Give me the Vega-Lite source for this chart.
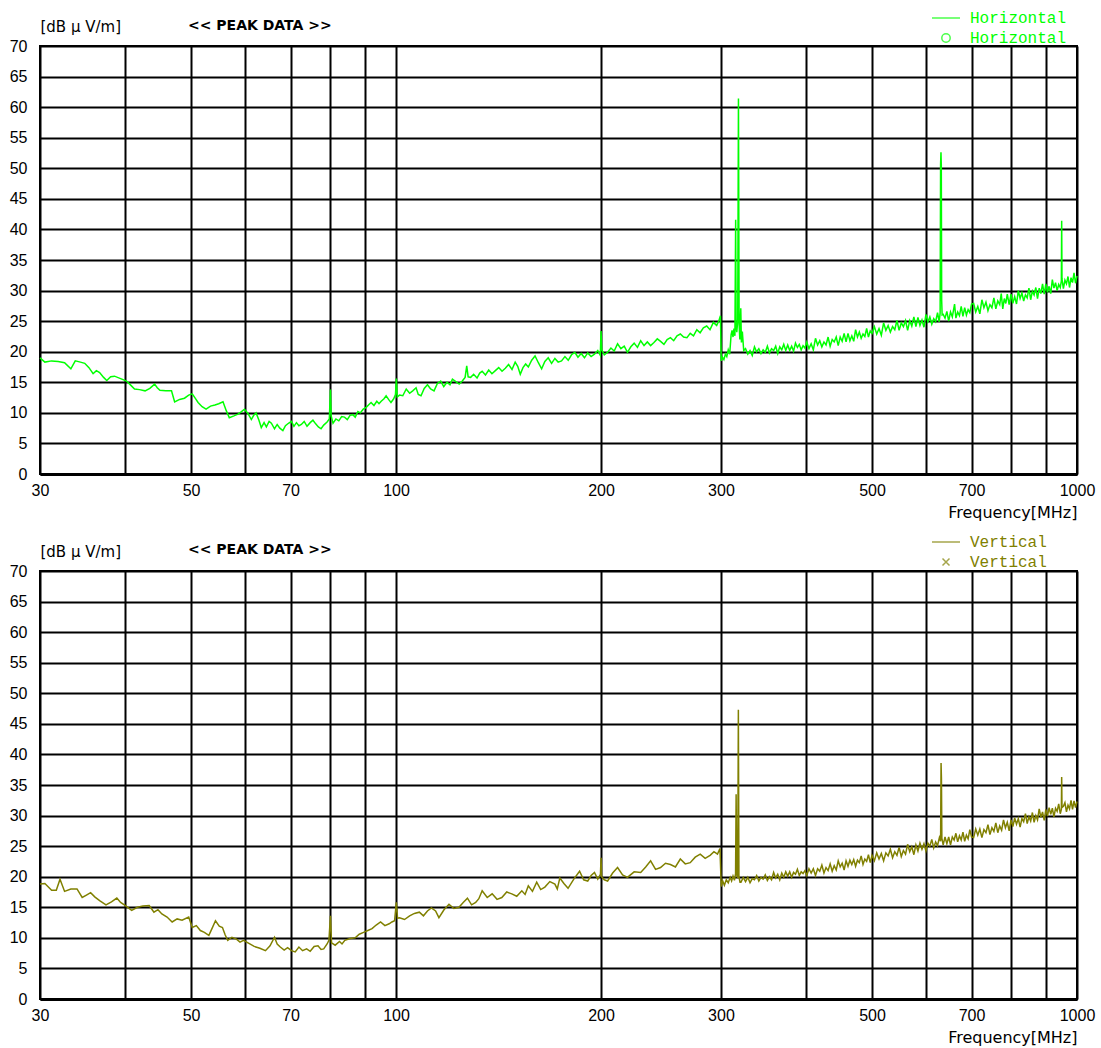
{
"$schema": "https://vega.github.io/schema/vega-lite/v6.json",
"background": "white",
"padding": {"left": 8, "top": 9, "right": 4, "bottom": 1},
"config": {
  "view": {"stroke": "black", "strokeWidth": 2},
  "axis": {"gridColor": "black", "gridWidth": 2, "gridOpacity": 1, "tickSize": 0, "domain": false, "labelColor": "black", "labelFont": "Liberation Sans", "labelFontSize": 16, "titleColor": "black", "titleFontWeight": "normal", "labelOverlap": false},
  "concat": {"spacing": 12}
},
"datasets": {
"h": [
{"f":30,"d":19.0},{"f":30.5,"d":18.3},{"f":31.2,"d":18.5},{"f":31.9,"d":18.4},{"f":32.6,"d":18.2},{"f":33.3,"d":17.2},{"f":33.8,"d":18.5},{"f":34.4,"d":18.3},{"f":34.9,"d":18.1},{"f":35.4,"d":17.4},{"f":35.9,"d":16.4},{"f":36.3,"d":16.9},{"f":36.7,"d":16.6},{"f":37.2,"d":15.8},{"f":37.6,"d":15.3},{"f":38.1,"d":15.9},{"f":38.6,"d":16.0},{"f":39.4,"d":15.6},{"f":40.2,"d":15.2},{"f":40.8,"d":14.5},{"f":41.3,"d":13.9},{"f":42.0,"d":13.8},{"f":42.8,"d":13.6},{"f":43.5,"d":14.0},{"f":44.2,"d":14.7},{"f":44.6,"d":14.1},{"f":45.0,"d":13.7},{"f":45.9,"d":13.6},{"f":46.8,"d":13.6},{"f":47.3,"d":11.8},{"f":48.1,"d":12.2},{"f":48.9,"d":12.4},{"f":49.6,"d":12.9},{"f":50.2,"d":13.1},{"f":50.7,"d":12.4},{"f":51.2,"d":11.7},{"f":51.9,"d":11.0},{"f":52.6,"d":10.6},{"f":53.4,"d":11.1},{"f":54.2,"d":11.3},{"f":54.9,"d":11.5},{"f":55.7,"d":11.8},{"f":56.3,"d":10.4},{"f":56.9,"d":9.2},{"f":57.8,"d":9.5},{"f":58.6,"d":9.8},{"f":59.3,"d":10.2},{"f":59.9,"d":10.6},{"f":60.6,"d":9.9},{"f":61.3,"d":8.9},{"f":61.8,"d":9.6},{"f":62.3,"d":10.0},{"f":62.9,"d":8.8},{"f":63.4,"d":7.6},{"f":64.0,"d":8.4},{"f":64.5,"d":7.7},{"f":65.1,"d":8.6},{"f":65.6,"d":8.3},{"f":66.3,"d":7.4},{"f":66.9,"d":8.1},{"f":67.5,"d":7.5},{"f":68.2,"d":7.1},{"f":68.8,"d":7.9},{"f":69.5,"d":8.3},{"f":70.2,"d":8.6},{"f":70.8,"d":7.8},{"f":71.4,"d":8.4},{"f":72.0,"d":7.9},{"f":72.6,"d":8.1},{"f":73.3,"d":8.6},{"f":74.0,"d":7.8},{"f":74.8,"d":8.4},{"f":75.5,"d":8.8},{"f":76.2,"d":8.2},{"f":76.9,"d":7.7},{"f":77.6,"d":7.4},{"f":78.3,"d":8.0},{"f":79.2,"d":8.5},{"f":79.8,"d":9.0},{"f":80.1,"d":13.8},{"f":80.3,"d":9.5},{"f":80.8,"d":8.3},{"f":81.6,"d":9.0},{"f":82.4,"d":8.7},{"f":83.2,"d":9.4},{"f":84.0,"d":9.3},{"f":84.8,"d":8.9},{"f":85.6,"d":9.6},{"f":86.4,"d":9.7},{"f":87.1,"d":9.3},{"f":87.9,"d":10.2},{"f":88.6,"d":10.0},{"f":89.5,"d":10.6},{"f":90.4,"d":10.9},{"f":91.1,"d":11.3},{"f":91.9,"d":11.7},{"f":92.8,"d":11.2},{"f":93.7,"d":11.9},{"f":94.4,"d":11.5},{"f":95.1,"d":11.9},{"f":96.0,"d":12.3},{"f":96.7,"d":12.8},{"f":97.5,"d":12.2},{"f":98.3,"d":11.7},{"f":99.2,"d":12.3},{"f":99.8,"d":13.0},{"f":100.1,"d":15.6},{"f":100.4,"d":12.6},
{"f":101.2,"d":12.9},{"f":102.3,"d":12.8},{"f":103.5,"d":13.9},{"f":104.7,"d":13.2},{"f":105.8,"d":13.6},{"f":107.0,"d":14.1},{"f":107.8,"d":13.0},{"f":108.8,"d":12.8},{"f":110.0,"d":14.0},{"f":111.2,"d":14.6},{"f":112.4,"d":13.9},{"f":113.7,"d":13.6},{"f":115.0,"d":14.8},{"f":116.3,"d":15.2},{"f":117.5,"d":14.3},{"f":118.8,"d":15.0},{"f":120.0,"d":14.6},{"f":121.0,"d":15.5},{"f":122.4,"d":15.1},{"f":123.8,"d":14.7},{"f":125.1,"d":15.2},{"f":126.3,"d":15.8},{"f":127.0,"d":17.7},{"f":127.6,"d":15.9},{"f":128.7,"d":15.8},{"f":130.0,"d":16.3},{"f":131.5,"d":15.7},{"f":132.7,"d":16.5},{"f":133.8,"d":16.8},{"f":135.3,"d":16.2},{"f":136.8,"d":17.0},{"f":138.3,"d":16.4},{"f":139.9,"d":16.9},{"f":141.5,"d":17.4},{"f":143.1,"d":16.8},{"f":144.7,"d":17.3},{"f":146.3,"d":17.9},{"f":148.0,"d":17.1},{"f":149.6,"d":18.3},{"f":150.9,"d":17.6},{"f":152.2,"d":16.3},{"f":153.6,"d":17.4},{"f":155.0,"d":18.0},{"f":156.4,"d":17.5},{"f":158.2,"d":18.6},{"f":160.0,"d":19.3},{"f":161.8,"d":18.2},{"f":163.6,"d":17.2},{"f":165.4,"d":18.4},{"f":167.3,"d":19.0},{"f":169.2,"d":18.1},{"f":171.1,"d":18.9},{"f":173.0,"d":18.3},{"f":175.0,"d":18.5},{"f":177.0,"d":19.2},{"f":179.0,"d":18.6},{"f":181.0,"d":19.5},{"f":183.0,"d":19.9},{"f":185.0,"d":19.1},{"f":187.0,"d":19.7},{"f":189.1,"d":19.0},{"f":191.2,"d":19.8},{"f":193.4,"d":19.2},{"f":195.6,"d":19.6},{"f":197.8,"d":20.2},{"f":199.5,"d":19.4},{"f":200.0,"d":23.4},{"f":200.5,"d":20.3},{"f":202.2,"d":19.5},{"f":204.5,"d":19.9},{"f":206.8,"d":20.6},{"f":209.1,"d":20.1},{"f":211.5,"d":21.3},{"f":213.9,"d":20.5},{"f":216.3,"d":20.9},{"f":218.7,"d":19.9},{"f":221.2,"d":20.8},{"f":223.7,"d":21.4},{"f":226.2,"d":20.7},{"f":228.7,"d":21.8},{"f":231.3,"d":21.0},{"f":233.9,"d":21.6},{"f":236.5,"d":21.0},{"f":239.2,"d":21.5},{"f":241.9,"d":22.1},{"f":244.6,"d":21.7},{"f":247.4,"d":21.2},{"f":250.1,"d":22.0},{"f":252.9,"d":22.3},{"f":255.7,"d":21.8},{"f":258.6,"d":22.6},{"f":261.5,"d":22.9},{"f":264.4,"d":22.4},{"f":267.4,"d":22.3},{"f":270.4,"d":23.0},{"f":273.4,"d":22.6},{"f":276.5,"d":23.6},{"f":279.6,"d":23.1},{"f":282.7,"d":23.9},{"f":285.9,"d":24.2},{"f":289.1,"d":23.6},{"f":292.4,"d":24.8},{"f":295.7,"d":24.3},{"f":298.0,"d":25.1},{"f":299.5,"d":25.9},
{"f":300.3,"d":18.5},{"f":301.5,"d":19.1},{"f":303.0,"d":18.7},{"f":304.5,"d":19.6},{"f":306.0,"d":19.2},{"f":307.5,"d":20.3},{"f":309.0,"d":19.6},{"f":310.5,"d":22.8},{"f":311.5,"d":23.5},{"f":312.5,"d":22.4},{"f":313.5,"d":23.8},{"f":314.5,"d":22.6},{"f":315.3,"d":41.6},{"f":315.8,"d":24.0},{"f":316.5,"d":23.2},{"f":317.5,"d":25.0},{"f":318.3,"d":61.4},{"f":319.0,"d":24.5},{"f":319.8,"d":22.0},{"f":320.8,"d":27.1},{"f":321.5,"d":21.5},{"f":322.5,"d":23.3},{"f":324.0,"d":20.2},
{"f":326.0,"d":20.5},{"f":328.5,"d":19.6},{"f":331.0,"d":20.2},{"f":333.5,"d":19.4},{"f":336.0,"d":20.8},{"f":338.5,"d":20.0},{"f":341.0,"d":20.5},{"f":343.5,"d":19.7},{"f":346.0,"d":20.3},{"f":348.5,"d":19.9},{"f":351.0,"d":20.9},{"f":353.5,"d":19.8},{"f":356.0,"d":20.5},{"f":358.5,"d":20.2},{"f":361.0,"d":20.9},{"f":363.5,"d":19.7},{"f":366.0,"d":20.8},{"f":368.5,"d":20.3},{"f":371.0,"d":21.2},{"f":373.5,"d":20.2},{"f":376.0,"d":21.1},{"f":378.5,"d":20.2},{"f":381.0,"d":20.9},{"f":383.5,"d":20.1},{"f":386.0,"d":21.4},{"f":388.5,"d":20.7},{"f":391.0,"d":21.2},{"f":393.5,"d":20.3},{"f":396.0,"d":21.0},{"f":398.5,"d":20.6},
{"f":401,"d":21.6},{"f":404,"d":20.5},{"f":407,"d":21.3},{"f":410,"d":20.3},{"f":413,"d":22.2},{"f":416,"d":21.1},{"f":419,"d":21.8},{"f":422,"d":20.8},{"f":425,"d":21.6},{"f":428,"d":21.1},{"f":431,"d":22.4},{"f":434,"d":20.9},{"f":437,"d":22.0},{"f":440,"d":21.6},{"f":443,"d":22.4},{"f":446,"d":21.0},{"f":449,"d":22.4},{"f":452,"d":21.7},{"f":455,"d":23.0},{"f":458,"d":21.6},{"f":461,"d":23.0},{"f":464,"d":21.8},{"f":467,"d":22.6},{"f":470,"d":21.7},{"f":473,"d":23.6},{"f":476,"d":22.4},{"f":479,"d":23.2},{"f":482,"d":22.2},{"f":485,"d":22.9},{"f":488,"d":22.5},{"f":491,"d":23.8},{"f":494,"d":22.4},{"f":497,"d":23.4},{"f":500,"d":23.0},
{"f":504,"d":24.1},{"f":508,"d":22.9},{"f":512,"d":23.8},{"f":516,"d":22.7},{"f":520,"d":24.7},{"f":524,"d":23.5},{"f":528,"d":24.3},{"f":532,"d":23.2},{"f":536,"d":24.1},{"f":540,"d":23.6},{"f":544,"d":25.1},{"f":548,"d":23.5},{"f":552,"d":24.7},{"f":556,"d":24.1},{"f":560,"d":25.1},{"f":564,"d":23.5},{"f":568,"d":25.1},{"f":572,"d":24.2},{"f":576,"d":25.7},{"f":580,"d":24.1},{"f":584,"d":25.6},{"f":588,"d":24.3},{"f":592,"d":25.2},{"f":596,"d":24.0},{"f":600,"d":26.1},{"f":604,"d":24.9},{"f":608,"d":25.7},{"f":612,"d":24.5},{"f":616,"d":25.4},{"f":620,"d":24.9},{"f":624,"d":26.4},{"f":627.5,"d":24.9},{"f":629.5,"d":26.3},{"f":630.5,"d":50.7},{"f":631.3,"d":52.6},{"f":632.0,"d":50.5},{"f":632.8,"d":28.4},{"f":633.8,"d":26.0},{"f":636,"d":26.1},{"f":640,"d":25.5},{"f":644,"d":26.6},{"f":648,"d":25.0},{"f":652,"d":26.5},{"f":656,"d":25.7},{"f":661,"d":27.8},{"f":664,"d":25.5},{"f":668,"d":26.5},{"f":672,"d":25.9},{"f":676,"d":27.4},{"f":680,"d":25.8},{"f":684,"d":27.2},{"f":688,"d":26.0},{"f":692,"d":26.9},{"f":696,"d":26.4},{"f":700,"d":27.8},
{"f":705,"d":27.9},{"f":710,"d":26.5},{"f":715,"d":27.4},{"f":720,"d":26.2},{"f":725,"d":28.5},{"f":730,"d":27.2},{"f":735,"d":28.1},{"f":740,"d":26.7},{"f":745,"d":27.7},{"f":750,"d":27.2},{"f":755,"d":28.8},{"f":760,"d":27.0},{"f":765,"d":28.3},{"f":770,"d":27.7},{"f":774,"d":29.5},{"f":778,"d":27.0},{"f":782,"d":28.7},{"f":786,"d":27.9},{"f":790,"d":29.4},{"f":795,"d":27.7},{"f":800,"d":29.4},{"f":805,"d":27.9},{"f":810,"d":29.0},{"f":815,"d":27.8},{"f":820,"d":30.0},{"f":825,"d":28.7},{"f":830,"d":29.6},{"f":835,"d":28.3},{"f":840,"d":29.3},{"f":845,"d":28.8},{"f":850,"d":30.4},{"f":855,"d":28.5},{"f":860,"d":29.9},{"f":865,"d":29.3},{"f":870,"d":30.5},{"f":875,"d":28.7},{"f":880,"d":30.4},{"f":885,"d":29.5},{"f":890,"d":31.1},{"f":895,"d":29.4},{"f":900,"d":31.1},{"f":905,"d":29.7},{"f":910,"d":30.7},{"f":915,"d":29.5},{"f":920,"d":31.8},{"f":925,"d":30.4},{"f":930,"d":31.3},{"f":935,"d":30.0},{"f":940,"d":31.0},{"f":945,"d":30.5},{"f":948.5,"d":31.6},{"f":949.5,"d":41.4},{"f":950.5,"d":31.9},{"f":955,"d":30.3},{"f":960,"d":31.7},{"f":965,"d":31.1},{"f":970,"d":32.3},{"f":975,"d":30.5},{"f":980,"d":32.1},{"f":985,"d":31.3},{"f":990,"d":32.9},{"f":995,"d":31.2},{"f":1000,"d":32.4}
],
"v": [
{"f":30,"d":18.8},{"f":30.5,"d":18.9},{"f":31.2,"d":17.8},{"f":31.7,"d":17.8},{"f":32.1,"d":19.6},{"f":32.6,"d":17.6},{"f":33.3,"d":18.0},{"f":34.0,"d":18.0},{"f":34.6,"d":16.6},{"f":35.1,"d":17.0},{"f":35.6,"d":17.4},{"f":36.1,"d":16.7},{"f":36.7,"d":16.1},{"f":37.5,"d":15.4},{"f":38.2,"d":15.9},{"f":38.9,"d":16.5},{"f":39.4,"d":15.8},{"f":40.0,"d":15.3},{"f":40.9,"d":14.5},{"f":41.7,"d":15.0},{"f":42.5,"d":15.2},{"f":43.4,"d":15.3},{"f":44.1,"d":14.2},{"f":44.7,"d":14.6},{"f":45.3,"d":13.9},{"f":46.1,"d":13.4},{"f":46.9,"d":12.6},{"f":47.7,"d":13.1},{"f":48.5,"d":12.9},{"f":49.6,"d":13.4},{"f":50.2,"d":11.7},{"f":50.9,"d":12.0},{"f":51.6,"d":11.2},{"f":52.3,"d":10.9},{"f":53.1,"d":10.4},{"f":53.7,"d":11.6},{"f":54.3,"d":12.8},{"f":55.0,"d":11.9},{"f":55.6,"d":11.7},{"f":56.1,"d":10.5},{"f":56.6,"d":9.6},{"f":57.4,"d":10.1},{"f":58.3,"d":9.8},{"f":59.0,"d":9.3},{"f":59.7,"d":9.6},{"f":60.8,"d":9.1},{"f":61.9,"d":8.6},{"f":63.1,"d":8.3},{"f":64.3,"d":7.9},{"f":65.3,"d":8.7},{"f":66.3,"d":10.1},{"f":66.9,"d":9.0},{"f":67.6,"d":8.5},{"f":68.5,"d":8.0},{"f":69.3,"d":8.4},{"f":70.2,"d":7.9},{"f":71.1,"d":7.7},{"f":72.0,"d":8.5},{"f":72.9,"d":7.9},{"f":73.9,"d":8.2},{"f":74.8,"d":7.8},{"f":75.8,"d":8.6},{"f":76.8,"d":8.7},{"f":77.6,"d":8.1},{"f":78.3,"d":8.2},{"f":79.2,"d":9.0},{"f":79.7,"d":9.6},{"f":80.1,"d":13.6},{"f":80.4,"d":9.2},{"f":81.4,"d":8.8},{"f":82.6,"d":9.4},{"f":83.3,"d":9.0},{"f":84.1,"d":9.6},{"f":85.6,"d":9.9},{"f":87.1,"d":10.0},{"f":88.3,"d":10.6},{"f":89.6,"d":10.9},{"f":90.9,"d":11.2},{"f":92.2,"d":11.5},{"f":93.5,"d":12.1},{"f":94.9,"d":12.6},{"f":96.3,"d":12.0},{"f":97.7,"d":12.3},{"f":98.6,"d":12.6},{"f":99.5,"d":12.8},{"f":100.1,"d":15.8},{"f":100.5,"d":13.2},
{"f":101.2,"d":13.3},{"f":102.9,"d":13.0},{"f":104.7,"d":13.6},{"f":106.4,"d":14.0},{"f":108.2,"d":14.2},{"f":109.7,"d":13.6},{"f":111.2,"d":14.4},{"f":112.7,"d":14.9},{"f":114.3,"d":14.4},{"f":115.6,"d":13.3},{"f":117.6,"d":14.6},{"f":119.6,"d":15.5},{"f":121.6,"d":14.8},{"f":123.7,"d":15.0},{"f":125.5,"d":15.8},{"f":127.3,"d":16.5},{"f":129.1,"d":15.4},{"f":130.9,"d":15.8},{"f":132.3,"d":16.4},{"f":133.8,"d":17.7},{"f":136.1,"d":16.6},{"f":138.4,"d":17.2},{"f":140.7,"d":16.3},{"f":143.0,"d":16.6},{"f":145.4,"d":17.5},{"f":147.9,"d":17.2},{"f":150.4,"d":16.8},{"f":153.0,"d":17.7},{"f":154.7,"d":17.1},{"f":156.4,"d":18.5},{"f":158.6,"d":17.6},{"f":160.9,"d":19.1},{"f":163.1,"d":17.9},{"f":165.4,"d":18.3},{"f":168.2,"d":19.2},{"f":171.1,"d":18.8},{"f":172.5,"d":18.0},{"f":174.0,"d":19.8},{"f":176.4,"d":18.9},{"f":178.9,"d":18.1},{"f":182.4,"d":19.6},{"f":186.0,"d":20.9},{"f":188.6,"d":19.5},{"f":191.2,"d":19.3},{"f":193.4,"d":20.2},{"f":195.6,"d":20.7},{"f":197.8,"d":19.6},{"f":199.6,"d":20.4},{"f":200.0,"d":23.1},{"f":200.4,"d":20.0},{"f":202.2,"d":19.5},{"f":204.5,"d":19.3},{"f":208.0,"d":20.6},{"f":211.5,"d":21.5},{"f":215.1,"d":20.3},{"f":218.7,"d":19.9},{"f":223.7,"d":20.8},{"f":228.7,"d":20.7},{"f":232.6,"d":21.6},{"f":236.5,"d":22.6},{"f":240.5,"d":21.2},{"f":244.6,"d":21.5},{"f":248.7,"d":22.2},{"f":252.9,"d":22.0},{"f":257.2,"d":21.6},{"f":261.5,"d":22.9},{"f":265.9,"d":22.1},{"f":270.4,"d":22.3},{"f":275.0,"d":23.2},{"f":279.7,"d":23.7},{"f":284.4,"d":23.0},{"f":289.2,"d":23.5},{"f":293.0,"d":24.1},{"f":296.5,"d":23.7},{"f":299.0,"d":24.6},
{"f":300.3,"d":18.4},{"f":301.8,"d":19.3},{"f":303.5,"d":18.6},{"f":305.5,"d":19.5},{"f":307.5,"d":19.0},{"f":309.5,"d":19.9},{"f":311.0,"d":19.3},{"f":312.5,"d":20.1},{"f":314.0,"d":19.4},{"f":315.2,"d":20.5},{"f":315.8,"d":33.5},{"f":316.4,"d":20.3},{"f":317.5,"d":19.8},{"f":318.2,"d":47.3},{"f":318.8,"d":20.0},{"f":320.0,"d":19.1},
{"f":321,"d":19.1},{"f":323.5,"d":19.9},{"f":326,"d":19.2},{"f":328.5,"d":19.9},{"f":331,"d":19.0},{"f":333.5,"d":19.7},{"f":336,"d":19.5},{"f":338.5,"d":20.2},{"f":341,"d":19.3},{"f":343.5,"d":19.9},{"f":346,"d":19.6},{"f":348.5,"d":20.3},{"f":351,"d":19.4},{"f":353.5,"d":20.0},{"f":356,"d":19.5},{"f":358.5,"d":20.7},{"f":361,"d":19.8},{"f":363.5,"d":20.4},{"f":366,"d":19.5},{"f":368.5,"d":20.6},{"f":371,"d":19.9},{"f":373.5,"d":20.8},{"f":376,"d":20.1},{"f":378.5,"d":20.8},{"f":381,"d":19.9},{"f":383.5,"d":20.7},{"f":386,"d":20.4},{"f":388.5,"d":21.2},{"f":391,"d":20.2},{"f":393.5,"d":20.8},{"f":396,"d":20.5},{"f":398.5,"d":21.0},
{"f":401,"d":20.2},{"f":404,"d":21.3},{"f":407,"d":20.6},{"f":410,"d":21.3},{"f":413,"d":20.2},{"f":416,"d":21.3},{"f":419,"d":20.9},{"f":422,"d":21.9},{"f":425,"d":20.6},{"f":428,"d":21.5},{"f":431,"d":21.0},{"f":434,"d":22.1},{"f":437,"d":20.9},{"f":440,"d":21.8},{"f":443,"d":21.1},{"f":446,"d":22.6},{"f":449,"d":21.6},{"f":452,"d":22.2},{"f":455,"d":21.1},{"f":458,"d":22.6},{"f":461,"d":21.7},{"f":464,"d":22.7},{"f":467,"d":22.0},{"f":470,"d":22.8},{"f":473,"d":21.7},{"f":476,"d":22.7},{"f":479,"d":22.3},{"f":482,"d":23.4},{"f":485,"d":22.0},{"f":488,"d":22.9},{"f":491,"d":22.5},{"f":494,"d":23.6},{"f":497,"d":22.3},{"f":500,"d":23.5},
{"f":504,"d":22.6},{"f":508,"d":23.9},{"f":512,"d":22.9},{"f":516,"d":23.8},{"f":520,"d":22.6},{"f":524,"d":23.9},{"f":528,"d":23.4},{"f":532,"d":24.5},{"f":536,"d":23.1},{"f":540,"d":24.1},{"f":544,"d":23.5},{"f":548,"d":24.8},{"f":552,"d":23.3},{"f":556,"d":24.3},{"f":560,"d":23.7},{"f":564,"d":25.3},{"f":568,"d":24.1},{"f":572,"d":24.9},{"f":576,"d":23.6},{"f":580,"d":25.2},{"f":584,"d":24.2},{"f":588,"d":25.5},{"f":592,"d":24.5},{"f":596,"d":25.4},{"f":600,"d":24.2},{"f":604,"d":25.5},{"f":608,"d":25.0},{"f":612,"d":26.1},{"f":616,"d":24.7},{"f":620,"d":25.7},{"f":624,"d":25.1},{"f":628,"d":26.4},{"f":630.5,"d":25.8},{"f":631.5,"d":38.6},{"f":632.3,"d":36.0},{"f":633.2,"d":26.3},{"f":636,"d":25.2},{"f":640,"d":26.5},{"f":644,"d":25.4},{"f":648,"d":26.5},{"f":652,"d":25.2},{"f":656,"d":26.5},{"f":660,"d":26.0},{"f":664,"d":27.1},{"f":668,"d":25.7},{"f":672,"d":26.7},{"f":676,"d":26.0},{"f":680,"d":27.3},{"f":684,"d":25.8},{"f":688,"d":26.8},{"f":692,"d":26.2},{"f":696,"d":27.7},{"f":700,"d":26.5},
{"f":705,"d":26.4},{"f":710,"d":27.8},{"f":715,"d":26.8},{"f":720,"d":27.8},{"f":725,"d":26.4},{"f":730,"d":27.7},{"f":735,"d":27.2},{"f":740,"d":28.5},{"f":745,"d":26.9},{"f":750,"d":28.0},{"f":755,"d":27.4},{"f":760,"d":28.8},{"f":765,"d":27.2},{"f":770,"d":28.3},{"f":775,"d":27.6},{"f":780,"d":29.3},{"f":785,"d":28.0},{"f":790,"d":28.9},{"f":795,"d":27.5},{"f":800,"d":29.3},{"f":805,"d":28.2},{"f":810,"d":29.6},{"f":815,"d":28.6},{"f":820,"d":29.5},{"f":825,"d":28.1},{"f":830,"d":29.5},{"f":835,"d":29.0},{"f":840,"d":30.3},{"f":845,"d":28.7},{"f":850,"d":29.8},{"f":855,"d":29.1},{"f":860,"d":30.5},{"f":865,"d":28.9},{"f":870,"d":30.0},{"f":875,"d":29.3},{"f":880,"d":31.1},{"f":885,"d":29.7},{"f":890,"d":30.6},{"f":895,"d":29.2},{"f":900,"d":31.0},{"f":905,"d":29.9},{"f":910,"d":31.3},{"f":915,"d":30.2},{"f":920,"d":31.2},{"f":925,"d":29.8},{"f":930,"d":31.2},{"f":935,"d":30.7},{"f":940,"d":31.9},{"f":945,"d":30.3},{"f":948.5,"d":31.0},{"f":949.5,"d":36.3},{"f":950.5,"d":31.3},{"f":955,"d":31.5},{"f":960,"d":32.1},{"f":965,"d":30.6},{"f":970,"d":31.7},{"f":975,"d":31.1},{"f":980,"d":32.5},{"f":985,"d":31.0},{"f":990,"d":32.4},{"f":995,"d":31.3},{"f":1000,"d":32.3}
]
},
"vconcat": [
{
  "width": 1037, "height": 428,
  "title": {"text": "<< PEAK DATA >>", "anchor": "start", "frame": "group", "dx": 148, "dy": 27, "font": "DejaVu Sans", "fontSize": 14, "fontWeight": "bold", "color": "black"},
  "encoding": {
    "x": {"field": "f", "type": "quantitative", "scale": {"type": "log", "domain": [30, 1000], "nice": false},
          "axis": {"values": [30,40,50,60,70,80,90,100,200,300,400,500,600,700,800,900,1000], "format": "d", "labelExpr": "indexof([30,50,70,100,200,300,500,700,1000], datum.value) >= 0 ? datum.label : ''", "labelFlush": false, "labelPadding": 8, "title": "Frequency[MHz]", "titleAnchor": "end", "titleFont": "DejaVu Sans", "titleFontSize": 16, "titlePadding": 6, "domain": true, "domainColor": "black", "domainWidth": 3}},
    "y": {"field": "d", "type": "quantitative", "scale": {"domain": [0, 70], "nice": false},
          "axis": {"values": [0,5,10,15,20,25,30,35,40,45,50,55,60,65,70], "format": "d", "labelPadding": 13, "title": "[dB μ V/m]", "titleAngle": 0, "titleAlign": "left", "titleBaseline": "middle", "titleX": 0, "titleY": -20, "titleFont": "DejaVu Sans", "titleFontSize": 15}}
  },
  "layer": [
    {"data": {"name": "h"}, "mark": {"type": "line", "color": "#00ff00", "strokeWidth": 1.5}},
    {"data": {"values": []}, "mark": {"type": "point", "filled": false, "strokeWidth": 1.5},
     "encoding": {
       "color": {"field": "s", "type": "nominal", "scale": {"domain": ["H1", "H2"], "range": ["#00ff00", "#00ff00"]},
                 "legend": {"title": null, "orient": "none", "legendX": 898, "legendY": -36, "symbolSize": 196, "symbolStrokeWidth": 1.5, "labelFont": "Liberation Mono", "labelFontSize": 16, "labelColor": "#00ff00", "labelOffset": 16, "rowPadding": 4, "padding": 0, "labelExpr": "'Horizontal'"}},
       "shape": {"field": "s", "type": "nominal", "scale": {"domain": ["H1", "H2"], "range": ["M-2,0L2,0", "M-0.6,0A0.6,0.6 0 1,0 0.6,0A0.6,0.6 0 1,0 -0.6,0Z"]},
                 "legend": {"title": null, "orient": "none", "legendX": 898, "legendY": -36, "symbolSize": 196, "symbolStrokeWidth": 1.5, "labelFont": "Liberation Mono", "labelFontSize": 16, "labelColor": "#00ff00", "labelOffset": 16, "rowPadding": 4, "padding": 0, "labelExpr": "'Horizontal'"}}
     }}
  ]
},
{
  "width": 1037, "height": 428,
  "title": {"text": "<< PEAK DATA >>", "anchor": "start", "frame": "group", "dx": 148, "dy": 27, "font": "DejaVu Sans", "fontSize": 14, "fontWeight": "bold", "color": "black"},
  "encoding": {
    "x": {"field": "f", "type": "quantitative", "scale": {"type": "log", "domain": [30, 1000], "nice": false},
          "axis": {"values": [30,40,50,60,70,80,90,100,200,300,400,500,600,700,800,900,1000], "format": "d", "labelExpr": "indexof([30,50,70,100,200,300,500,700,1000], datum.value) >= 0 ? datum.label : ''", "labelFlush": false, "labelPadding": 8, "title": "Frequency[MHz]", "titleAnchor": "end", "titleFont": "DejaVu Sans", "titleFontSize": 16, "titlePadding": 6, "domain": true, "domainColor": "black", "domainWidth": 3}},
    "y": {"field": "d", "type": "quantitative", "scale": {"domain": [0, 70], "nice": false},
          "axis": {"values": [0,5,10,15,20,25,30,35,40,45,50,55,60,65,70], "format": "d", "labelPadding": 13, "title": "[dB μ V/m]", "titleAngle": 0, "titleAlign": "left", "titleBaseline": "middle", "titleX": 0, "titleY": -20, "titleFont": "DejaVu Sans", "titleFontSize": 15}}
  },
  "layer": [
    {"data": {"name": "v"}, "mark": {"type": "line", "color": "#808000", "strokeWidth": 1.5}},
    {"data": {"values": []}, "mark": {"type": "point", "filled": false, "strokeWidth": 1.5},
     "encoding": {
       "color": {"field": "t", "type": "nominal", "scale": {"domain": ["V1", "V2"], "range": ["#808000", "#808000"]},
                 "legend": {"title": null, "orient": "none", "legendX": 898, "legendY": -37, "symbolSize": 196, "symbolStrokeWidth": 1.5, "labelFont": "Liberation Mono", "labelFontSize": 16, "labelColor": "#808000", "labelOffset": 16, "rowPadding": 4, "padding": 0, "labelExpr": "'Vertical'"}},
       "shape": {"field": "t", "type": "nominal", "scale": {"domain": ["V1", "V2"], "range": ["M-2,0L2,0", "M-0.5,-0.5L0.5,0.5M-0.5,0.5L0.5,-0.5"]},
                 "legend": {"title": null, "orient": "none", "legendX": 898, "legendY": -37, "symbolSize": 196, "symbolStrokeWidth": 1.5, "labelFont": "Liberation Mono", "labelFontSize": 16, "labelColor": "#808000", "labelOffset": 16, "rowPadding": 4, "padding": 0, "labelExpr": "'Vertical'"}}
     }}
  ]
}
],
"resolve": {"scale": {"color": "independent", "shape": "independent"}, "legend": {"color": "independent", "shape": "independent"}}
}
